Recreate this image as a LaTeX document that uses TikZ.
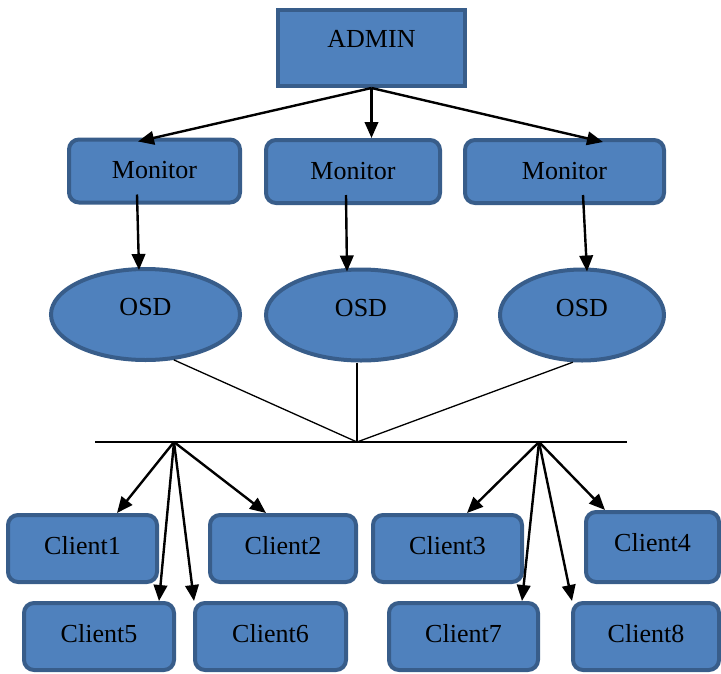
\documentclass[tikz,border=0pt]{standalone}
\usepackage{fontspec}
\setmainfont{Liberation Serif}
\usetikzlibrary{shapes.geometric,arrows.meta}
\definecolor{boxfill}{HTML}{4F81BD}
\definecolor{boxline}{HTML}{385D8A}

\begin{document}
\begin{tikzpicture}[x=1pt,y=-1pt]

            \tikzset{
              block/.style={draw=boxline, fill=boxfill, line width=4pt, inner sep=0pt,
                font=\fontsize{26}{30}\selectfont, text height=17.2pt},
              adminbox/.style={block, minimum width=187pt, minimum height=76pt, text depth=19pt},
              monbox/.style={block, rounded corners=10pt, minimum height=63pt, text depth=2pt},
              osdnode/.style={block, ellipse, minimum height=91pt, text depth=15pt},
              clientbox/.style={block, rounded corners=10pt, minimum height=67pt, text depth=6pt},
              arr/.style={line width=2.4pt, -{Triangle[length=16pt,width=13.5pt]}},
              wire/.style={line width=1.3pt}
            }

            \useasboundingbox (0,0) rectangle (721,673);

            \node [adminbox] (admin) at (371.5,48) {ADMIN};

            \node [monbox, minimum width=171pt] (m1) at (154.5,171) {Monitor};
            \node [monbox, minimum width=174pt] (m2) at (353,171.5) {Monitor};
            \node [monbox, minimum width=199pt] (m3) at (564.5,171.5) {Monitor};

            \node [osdnode, minimum width=189pt] (o1) at (145.5,314.5) {OSD};
            \node [osdnode, minimum width=190pt] (o2) at (361,315) {OSD};
            \node [osdnode, minimum width=164pt] (o3) at (582,315) {OSD};

            \node [clientbox, minimum width=149pt] (c1) at (82.5,548.5) {Client1};
            \node [clientbox, minimum width=146pt] (c2) at (283,548.5) {Client2};
            \node [clientbox, minimum width=149pt] (c3) at (447.5,548.5) {Client3};
            \node [clientbox, minimum width=133pt, minimum height=70pt, text depth=8pt] (c4) at (652.5,547) {Client4};
            \node [clientbox, minimum width=150pt] (c5) at (99,636.5) {Client5};
            \node [clientbox, minimum width=151pt] (c6) at (270.5,636.5) {Client6};
            \node [clientbox, minimum width=149pt] (c7) at (463.5,636.5) {Client7};
            \node [clientbox, minimum width=146pt] (c8) at (646,636.5) {Client8};

            % bus
            \coordinate (busL) at (95,442);
            \coordinate (busR) at (627,442);
            \coordinate (busC) at (357,442);
            \coordinate (hubL) at (174,442);
            \coordinate (hubR) at (539,442);

            \draw [arr] (admin.south) -- ([xshift=-16.5pt, yshift=-4pt]m1.north);
            \draw [arr] (admin.south) -- (admin.south |- m2.north);
            \draw [arr] (admin.south) -- ([xshift=38.5pt, yshift=-4pt]m3.north);

            \draw [arr] ([xshift=-17.5pt, yshift=10pt]m1.south) -- ([xshift=-6.5pt, yshift=-3pt]o1.north);
            \draw [arr] ([xshift=-7pt, yshift=10pt]m2.south) -- ([xshift=-14pt, yshift=-4pt]o2.north);
            \draw [arr] ([xshift=18.5pt, yshift=10pt]m3.south) -- ([xshift=5pt, yshift=-4pt]o3.north);

            \draw [wire] (busL) -- (busR);
            \draw [wire] (o1.-58) -- (busC);
            \draw [wire] ([xshift=-4pt]o2.south) -- (busC);
            \draw [wire] (o3.-101) -- (busC);

            \draw [arr] (hubL) -- ([xshift=34.5pt]c1.north);
            \draw [arr] (hubL) -- ([xshift=60pt]c5.north);
            \draw [arr] (hubL) -- ([xshift=-76.5pt]c6.north);
            \draw [arr] (hubL) -- ([xshift=-17pt]c2.north);

            \draw [arr] (hubR) -- ([xshift=19.5pt]c3.north);
            \draw [arr] (hubR) -- ([xshift=58.5pt]c7.north);
            \draw [arr] (hubR) -- ([xshift=-74pt]c8.north);
            \draw [arr] (hubR) -- ([xshift=-47.5pt]c4.north);

\end{tikzpicture}
\end{document}
